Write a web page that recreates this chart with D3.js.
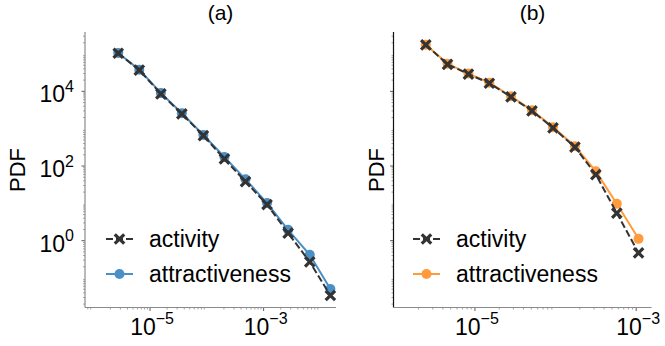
<!DOCTYPE html>
<html>
<head>
<meta charset="utf-8">
<script src="https://cdn.jsdelivr.net/npm/d3@7"></script>
<style>
    body { margin: 0; background: #fff; }
    svg { font-family: "Liberation Sans", Arial, sans-serif; }
</style>
</head>
<body>
<svg id="chart" width="665" height="346"></svg>
<script>
// Data
const xA = [2.75e-6, 6.46e-6, 1.55e-5, 3.63e-5, 8.7e-5, 2.04e-4, 4.8e-4, 1.15e-3, 2.7e-3, 6.5e-3, 1.5e-2];
const activityA = [1.05e5, 3.7e4, 8.6e3, 2.5e3, 650, 155, 38, 9.3, 1.6, 0.27, 0.034];
const attractA = [1.07e5, 3.8e4, 9.1e3, 2.6e3, 680, 174, 44, 10.2, 1.95, 0.42, 0.051];

const xB = [2.46e-6, 4.57e-6, 8.3e-6, 1.51e-5, 2.8e-5, 5.1e-5, 9.3e-5, 1.74e-4, 3.16e-4, 5.75e-4, 1.07e-3];
const activityB = [1.75e5, 5.3e4, 2.9e4, 1.65e4, 7.1e3, 3.0e3, 1.05e3, 320, 59, 5.5, 0.47];
const attractB = [1.78e5, 5.5e4, 3.0e4, 1.7e4, 7.4e3, 3.1e3, 1.1e3, 339, 72, 9.8, 1.12];

const titles = ['(a)', '(b)'];
const seriesNames = ['activity', 'attractiveness'];
const yTicks = [1e0, 1e2, 1e4];
const xTicks = [1e-5, 1e-3];

const COLOR_ACTIVITY = '#333333',
      COLOR_BLUE = '#4a8fc6',
      COLOR_ORANGE = '#ff9b3d';

const svg = d3.select('#chart');

const panels = [
    { title: titles[0], x: xA, act: activityA, attr: attractA, color: COLOR_BLUE,
      left: 85, right: 336, xDomain: [Math.pow(10, -6.146), Math.pow(10, -1.725)],
      yLabels: true, yAxisColor: '#8a8a8a', labelX: 17, legendX: 106 },
    { title: titles[1], x: xB, act: activityB, attr: attractB, color: COLOR_ORANGE,
      left: 393.5, right: 651.5, xDomain: [Math.pow(10, -6.01), Math.pow(10, -2.81)],
      yLabels: false, yAxisColor: '#111', labelX: 376, legendX: 413 }
];

const plotTop = 32, plotBottom = 307.5;
const yDomain = [Math.pow(10, -1.79), Math.pow(10, 5.59)];

function superscript(sel, exp) {
    sel.append('tspan').text('10');
    sel.append('tspan')
        .attr('dy', -10.5)
        .attr('font-size', 16)
        .text(exp < 0 ? '\u2212' + (-exp) : exp);
}

function minorTicks(domain) {
    let out = [];
    let lo = Math.floor(Math.log10(domain[0])), hi = Math.ceil(Math.log10(domain[1]));
    for (let e = lo; e < hi; e++) {
        for (let s = 2; s <= 9; s++) {
            let v = s * Math.pow(10, e);
            if (v >= domain[0] && v <= domain[1]) out.push(v);
        }
    }
    return out;
}

panels.forEach((p) => {
    const xScale = d3.scaleLog().domain(p.xDomain).range([p.left, p.right]);
    const yScale = d3.scaleLog().domain(yDomain).range([plotBottom, plotTop]);
    const g = svg.append('g');

    // Minor ticks
    g.selectAll('.xminor').data(minorTicks(p.xDomain)).enter().append('line')
        .attr('x1', (d) => xScale(d)).attr('x2', (d) => xScale(d))
        .attr('y1', plotBottom).attr('y2', plotBottom + 2)
        .attr('stroke', '#666').attr('stroke-width', 0.6);
    g.selectAll('.yminor').data(minorTicks(yDomain)).enter().append('line')
        .attr('y1', (d) => yScale(d)).attr('y2', (d) => yScale(d))
        .attr('x1', p.left - 2).attr('x2', p.left)
        .attr('stroke', '#666').attr('stroke-width', 0.6);

    // Major ticks
    g.selectAll('.xmajor').data(xTicks).enter().append('line')
        .attr('x1', (d) => xScale(d)).attr('x2', (d) => xScale(d))
        .attr('y1', plotBottom).attr('y2', plotBottom + 3.5)
        .attr('stroke', '#333').attr('stroke-width', 0.8);
    g.selectAll('.ymajor').data(yTicks).enter().append('line')
        .attr('y1', (d) => yScale(d)).attr('y2', (d) => yScale(d))
        .attr('x1', p.left - 3.5).attr('x2', p.left)
        .attr('stroke', '#333').attr('stroke-width', 0.8);

    // Spines
    g.append('line')
        .attr('x1', p.left).attr('x2', p.left).attr('y1', plotTop).attr('y2', plotBottom)
        .attr('stroke', p.yAxisColor).attr('stroke-width', 1.2);
    g.append('line')
        .attr('x1', p.left).attr('x2', p.right).attr('y1', plotBottom).attr('y2', plotBottom)
        .attr('stroke', '#8a8a8a').attr('stroke-width', 1.2);

    // Tick labels
    xTicks.forEach((t) => {
        g.append('text')
            .attr('x', xScale(t) + 2).attr('y', plotBottom + 27)
            .attr('text-anchor', 'middle').attr('font-size', 23)
            .call(superscript, Math.round(Math.log10(t)));
    });
    if (p.yLabels) {
        yTicks.forEach((t) => {
            g.append('text')
                .attr('x', p.left - 11).attr('y', yScale(t) + 11)
                .attr('text-anchor', 'end').attr('font-size', 23)
                .call(superscript, Math.round(Math.log10(t)));
        });
    }

    // Title and y label
    g.append('text')
        .attr('x', (p.left + p.right) / 2 + 10).attr('y', 20)
        .attr('text-anchor', 'middle').attr('font-size', 21)
        .text(p.title);
    g.append('text')
        .attr('transform', 'translate(' + (p.labelX + 8) + ',170) rotate(-90)')
        .attr('text-anchor', 'middle').attr('font-size', 22)
        .text('PDF');

    // Series
    const line = d3.line().x((d) => xScale(d[0])).y((d) => yScale(d[1]));
    const attrData = p.x.map((x, i) => [x, p.attr[i]]);
    const actData = p.x.map((x, i) => [x, p.act[i]]);

    g.append('path').datum(attrData).attr('d', line)
        .attr('fill', 'none').attr('stroke', p.color).attr('stroke-width', 2);
    g.selectAll('.attr').data(attrData).enter().append('circle')
        .attr('cx', (d) => xScale(d[0])).attr('cy', (d) => yScale(d[1]))
        .attr('r', 5).attr('fill', p.color);

    g.append('path').datum(actData).attr('d', line)
        .attr('fill', 'none').attr('stroke', COLOR_ACTIVITY).attr('stroke-width', 2)
        .attr('stroke-dasharray', '7,3');
    const xMarker = d3.symbol().type(d3.symbolX).size(60);
    g.selectAll('.act').data(actData).enter().append('path')
        .attr('d', xMarker)
        .attr('transform', (d) => 'translate(' + xScale(d[0]) + ',' + yScale(d[1]) + ')')
        .attr('fill', 'none').attr('stroke', COLOR_ACTIVITY).attr('stroke-width', 3.2);

    // Legend
    const legend = g.append('g');
    [0, 1].forEach((i) => {
        const y = 239 + i * 35;
        const c = i === 0 ? COLOR_ACTIVITY : p.color;
        legend.append('line')
            .attr('x1', p.legendX).attr('x2', p.legendX + 27)
            .attr('y1', y).attr('y2', y)
            .attr('stroke', c).attr('stroke-width', 2)
            .attr('stroke-dasharray', i === 0 ? '7,3' : null);
        if (i === 0) {
            legend.append('path').attr('d', xMarker)
                .attr('transform', 'translate(' + (p.legendX + 13.5) + ',' + y + ')')
                .attr('fill', 'none').attr('stroke', c).attr('stroke-width', 3.2);
        } else {
            legend.append('circle').attr('cx', p.legendX + 13.5).attr('cy', y)
                .attr('r', 5).attr('fill', c);
        }
        legend.append('text')
            .attr('x', p.legendX + 43).attr('y', y + 8)
            .attr('font-size', 23)
            .text(seriesNames[i]);
    });
});
</script>
</body>
</html>
